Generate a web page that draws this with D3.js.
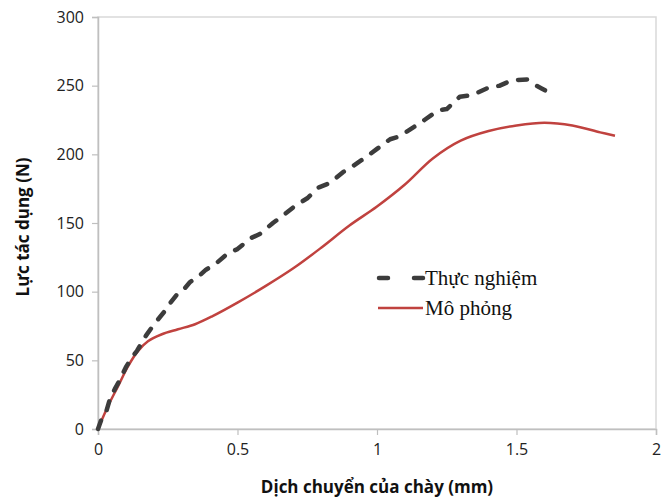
<!DOCTYPE html>
<meta charset="utf-8">
<style>
body { margin: 0; background: #fff; }
.tick text { font-family: "Open Sans", Lato, sans-serif; font-size: 16px; fill: #222; }
.axis-title { font-family: "Open Sans", Lato, sans-serif; font-weight: bold; font-size: 17px; fill: #111; }
.legend text { font-family: "Liberation Serif", "DejaVu Serif", serif; font-size: 21px; fill: #111; }
</style>
<body>
<script src="https://d3js.org/d3.v7.min.js"></script>
<script>

var width = 672,
    height = 499;

var margin = {top: 17, right: 16, bottom: 69, left: 98};

// Thực nghiệm (experiment)
var expX = [0, 0.014, 0.03, 0.043, 0.06, 0.079, 0.1, 0.118, 0.14, 0.172, 0.2, 0.24, 0.26, 0.287,
  0.305, 0.33, 0.36, 0.387, 0.42, 0.466, 0.5, 0.548, 0.58, 0.627, 0.66, 0.71, 0.75, 0.792, 0.83,
  0.878, 0.91, 0.961, 1.0, 1.047, 1.08, 1.133, 1.17, 1.219, 1.25, 1.297, 1.34, 1.405, 1.44,
  1.484, 1.538, 1.55, 1.566, 1.59, 1.631];
var expY = [0, 8, 13, 22, 29, 36, 45, 51, 57, 68, 76, 86, 92, 99,
  101, 107, 111, 116, 120, 128, 131, 139, 142, 150, 155, 163, 168, 176, 179,
  187, 191, 198, 204, 211, 213, 220, 225, 232, 233, 242, 243, 249, 250,
  254, 254.5, 253, 250.6, 248, 243.4];

// Mô phỏng (simulation)
var simX = [0, 0.036, 0.072, 0.108, 0.143, 0.179, 0.229, 0.287, 0.348, 0.409, 0.5, 0.6, 0.7,
  0.8, 0.9, 1.0, 1.1, 1.2, 1.3, 1.4, 1.5, 1.6, 1.7, 1.8, 1.853];
var simY = [0, 16.7, 31.2, 45.8, 56.7, 63.9, 69, 72.6, 76.3, 82, 92, 104, 117,
  132, 148, 162, 178, 197, 210, 217, 221, 223, 221, 216, 213.5];

var xTicks = [0, 0.5, 1, 1.5, 2];
var yTicks = [0, 50, 100, 150, 200, 250, 300];
var seriesNames = ["Thực nghiệm", "Mô phỏng"];

var svg = d3.select("body").append("svg")
    .attr("width", width)
    .attr("height", height);

var x = d3.scaleLinear().domain([0, 2]).range([margin.left, width - margin.right]);
var y = d3.scaleLinear().domain([0, 300]).range([height - margin.bottom - 1, margin.top]);

// frame
svg.append("rect")
    .attr("x", x(0)).attr("y", y(300))
    .attr("width", x(2) - x(0)).attr("height", y(0) - y(300))
    .attr("fill", "none").attr("stroke", "#d9d9d9").attr("stroke-width", 1.5);

var xAxis = svg.append("g")
    .attr("transform", "translate(0," + y(0) + ")")
    .call(d3.axisBottom(x).tickValues(xTicks).tickSize(6).tickPadding(9)
      .tickFormat(function(d) { return d; }));
var yAxis = svg.append("g")
    .attr("transform", "translate(" + x(0) + ",0)")
    .call(d3.axisLeft(y).tickValues(yTicks).tickSize(6).tickPadding(8));

[xAxis, yAxis].forEach(function(g) {
  g.select(".domain").attr("stroke", "#bfbfbf").attr("stroke-width", 1.5);
  g.selectAll(".tick line").attr("stroke", "#bfbfbf").attr("stroke-width", 1.2);
});

var expData = expX.map(function(d, i) { return [d, expY[i]]; });
var simData = simX.map(function(d, i) { return [d, simY[i]]; });

var line = d3.line()
    .x(function(d) { return x(d[0]); })
    .y(function(d) { return y(d[1]); });

svg.append("path")
    .datum(simData)
    .attr("d", line.curve(d3.curveCatmullRom.alpha(0.5)))
    .attr("fill", "none")
    .attr("stroke", "#c0423f")
    .attr("stroke-width", 2.5);

svg.append("path")
    .datum(expData)
    .attr("d", line.curve(d3.curveLinear))
    .attr("fill", "none")
    .attr("stroke", "#3c3c3c")
    .attr("stroke-width", 4.5)
    .attr("stroke-linecap", "round")
    .attr("stroke-linejoin", "round")
    .attr("stroke-dasharray", "9,12");

// axis titles
svg.append("text")
    .attr("class", "axis-title")
    .attr("x", x(1))
    .attr("y", 493)
    .attr("text-anchor", "middle")
    .text("Dịch chuyển của chày (mm)");

svg.append("text")
    .attr("class", "axis-title")
    .attr("transform", "translate(29,227) rotate(-90)")
    .attr("text-anchor", "middle")
    .text("Lực tác dụng (N)");

// legend
var legend = svg.append("g").attr("class", "legend");
legend.append("line")
    .attr("x1", 379).attr("x2", 423).attr("y1", 278).attr("y2", 278)
    .attr("stroke", "#3c3c3c").attr("stroke-width", 4.5)
    .attr("stroke-linecap", "round").attr("stroke-dasharray", "9,26");
legend.append("line")
    .attr("x1", 378).attr("x2", 423).attr("y1", 308).attr("y2", 308)
    .attr("stroke", "#c0423f").attr("stroke-width", 2.5);
legend.append("text").attr("x", 425).attr("y", 285).text(seriesNames[0]);
legend.append("text").attr("x", 425).attr("y", 315).text(seriesNames[1]);

</script>
